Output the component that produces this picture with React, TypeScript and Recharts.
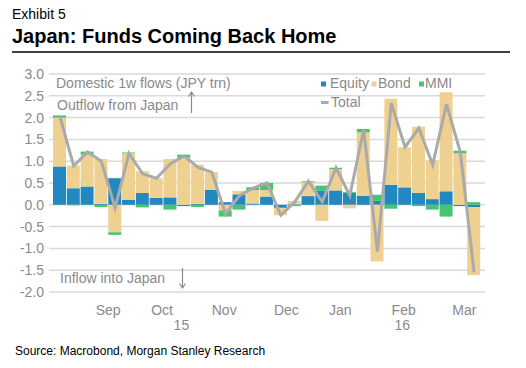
import { ComposedChart, Bar, Line, XAxis, YAxis, CartesianGrid } from 'recharts'

// weekly flows, JPY trn
const weeks = [0, 1, 2, 3, 4, 5, 6, 7, 8, 9, 10, 11, 12, 13, 14, 15, 16, 17, 18, 19, 20, 21, 22, 23, 24, 25, 26, 27, 28, 29, 30]
const equity = [0.88, 0.38, 0.42, 0.02, 0.61, 0.11, 0.27, 0.16, 0.17, -0.03, 0.02, 0.34, 0.06, 0.24, 0.03, 0.19, -0.07, 0.01, 0.2, 0.33, 0.33, 0.27, 0.21, 0.09, 0.46, 0.4, 0.27, 0.13, 0.31, -0.03, -0.05]
const bond = [1.12, 0.52, 0.73, 1.03, -0.63, 1.07, 0.5, 0.45, 0.88, 1.08, 0.9, 0.41, -0.13, 0.08, 0.31, 0.15, -0.17, 0.08, 0.32, -0.37, 0.49, -0.08, 1.45, -1.3, 1.97, 0.92, 1.52, 0.89, 2.27, 1.18, -1.56]
const mmi = [0.05, -0.01, 0.07, -0.05, -0.06, 0.02, -0.06, 0, -0.11, 0.07, -0.05, 0, -0.14, -0.11, 0.06, 0.16, 0, -0.03, 0.02, 0.11, 0.03, 0.02, 0.08, 0.14, -0.09, 0, -0.03, -0.11, -0.27, 0.06, 0.06]
const total = [2.03, 0.89, 1.21, 1.0, -0.07, 1.18, 0.71, 0.61, 0.94, 1.12, 0.86, 0.75, -0.21, 0.21, 0.38, 0.5, -0.24, 0.06, 0.54, 0.07, 0.85, 0.21, 1.72, -1.07, 2.33, 1.32, 1.76, 0.92, 2.31, 1.21, -1.55]

const monthTicks = [3.5, 7.4, 11.9, 16.4, 20.3, 24.9, 29.3]
const monthLabels = ['Sep', 'Oct', 'Nov', 'Dec', 'Jan', 'Feb', 'Mar']
const yearTicks = [8.8, 24.8]
const yearLabels = ['15', '16']
const yTicks = [-2, -1.5, -1, -0.5, 0, 0.5, 1, 1.5, 2, 2.5, 3]

const data = weeks.map((w, i) => ({
  w,
  equity: equity[i],
  bond: bond[i],
  mmi: mmi[i],
  total: total[i],
}))

const GREY = '#8a8a8a'
const FONT = '"Liberation Sans", Arial, sans-serif'

export default function App() {
  const tickStyle = { fill: GREY, fontSize: 14 }
  return (
    <div style={{ position: 'absolute', left: 0, top: 0, width: 526, height: 368, fontFamily: FONT, background: '#fff' }}>
      <ComposedChart
        width={526}
        height={368}
        data={data}
        stackOffset="sign"
        margin={{ top: 74, right: 41, bottom: 36, left: 0 }}
      >
        <CartesianGrid vertical={false} stroke="#d9d9d9" strokeWidth={1.5} />
        <XAxis
          dataKey="w"
          type="number"
          domain={[-0.5, 30.5]}
          ticks={monthTicks}
          interval={0}
          tickFormatter={(v) => monthLabels[monthTicks.indexOf(v)] ?? ''}
          padding={{ left: 4, right: 4 }}
          axisLine={false}
          tickLine={false}
          tickSize={0}
          tickMargin={13}
          height={20}
          tick={tickStyle}
        />
        <XAxis
          xAxisId="year"
          dataKey="w"
          type="number"
          domain={[-0.5, 30.5]}
          ticks={yearTicks}
          interval={0}
          tickFormatter={(v) => yearLabels[yearTicks.indexOf(v)] ?? ''}
          padding={{ left: 4, right: 4 }}
          axisLine={false}
          tickLine={false}
          tickSize={0}
          tickMargin={8}
          height={20}
          tick={tickStyle}
        />
        <YAxis
          domain={[-2, 3]}
          ticks={yTicks}
          interval={0}
          tickFormatter={(v) => v.toFixed(1)}
          axisLine={false}
          tickLine={false}
          tickSize={0}
          tickMargin={5}
          width={49}
          tick={tickStyle}
        />
        <Bar dataKey="equity" stackId="a" fill="#2388bf" barSize={13} isAnimationActive={false} />
        <Bar dataKey="bond" stackId="a" fill="#eed190" barSize={13} isAnimationActive={false} />
        <Bar dataKey="mmi" stackId="a" fill="#45c56f" barSize={13} isAnimationActive={false} />
        <Line dataKey="total" type="linear" stroke="#aaaaaa" strokeWidth={3} dot={false} isAnimationActive={false} />
      </ComposedChart>

      <svg width={526} height={368} style={{ position: 'absolute', left: 0, top: 0, pointerEvents: 'none' }}>
        <text x={12} y={19} fontSize={14} fill="#000">Exhibit 5</text>
        <text x={12} y={43} fontSize={20} fontWeight="bold" fill="#000">Japan: Funds Coming Back Home</text>
        <line x1={12} y1={52} x2={510} y2={52} stroke="#000" strokeWidth={1.7} />

        <text x={56} y={88} fontSize={14} fill={GREY}>Domestic 1w flows (JPY trn)</text>
        <text x={57} y={110} fontSize={14} fill={GREY}>Outflow from Japan</text>
        <g stroke={GREY} strokeWidth={1.2} fill="none">
          <line x1={191.5} y1={113} x2={191.5} y2={92} />
          <polyline points="188.5,96.5 191.5,92 194.5,96.5" />
          <line x1={182.5} y1={268} x2={182.5} y2={288} />
          <polyline points="179.5,283.5 182.5,288 185.5,283.5" />
        </g>
        <text x={60} y={283} fontSize={14} fill={GREY}>Inflow into Japan</text>

        <rect x={321} y={81.5} width={5} height={5} fill="#2388bf" />
        <text x={330} y={88} fontSize={14} fill={GREY}>Equity</text>
        <rect x={371.5} y={81.5} width={5} height={5} fill="#eed190" />
        <text x={378} y={88} fontSize={14} fill={GREY}>Bond</text>
        <rect x={419} y={81.5} width={5} height={5} fill="#45c56f" />
        <text x={425} y={88} fontSize={14} fill={GREY}>MMI</text>
        <line x1={321} y1={102.5} x2={328.5} y2={102.5} stroke="#aaaaaa" strokeWidth={3} />
        <text x={331} y={107} fontSize={14} fill={GREY}>Total</text>

        <text x={15} y={355} fontSize={12} fill="#000">Source: Macrobond, Morgan Stanley Research</text>
      </svg>
    </div>
  )
}
